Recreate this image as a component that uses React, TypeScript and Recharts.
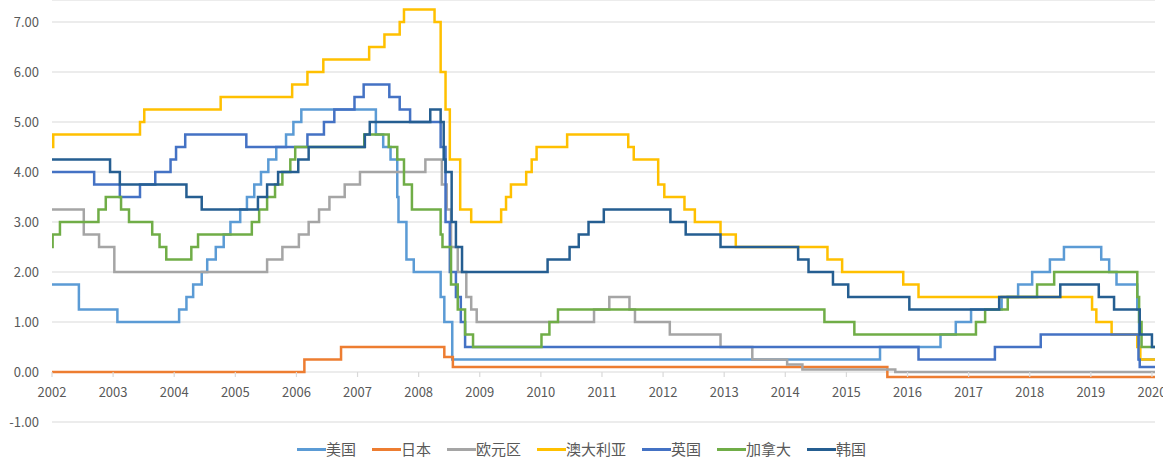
import { LineChart, Line, XAxis, YAxis, CartesianGrid, Legend } from 'recharts';

// time is in "axis years"; each pair is [start, rate]
const END = 2020.05;
const YEARS = [2002, 2003, 2004, 2005, 2006, 2007, 2008, 2009, 2010, 2011, 2012, 2013, 2014, 2015, 2016, 2017, 2018, 2019, 2020];
const Y_TICKS = [-1, 0, 1, 2, 3, 4, 5, 6, 7];
const Y_DOMAIN: [number, number] = [-1, 7.44];

const usRate: [number, number][] = [
  [2002.0, 1.75], [2002.44, 1.25], [2003.07, 1.0], [2004.08, 1.25], [2004.2, 1.5], [2004.31, 1.75],
  [2004.45, 2.0], [2004.54, 2.25], [2004.68, 2.5], [2004.81, 2.75], [2004.92, 3.0], [2005.08, 3.25],
  [2005.19, 3.5], [2005.31, 3.75], [2005.42, 4.0], [2005.54, 4.25], [2005.67, 4.5], [2005.83, 4.75],
  [2005.95, 5.0], [2006.08, 5.25], [2007.3, 4.75], [2007.42, 4.5], [2007.54, 4.25], [2007.65, 3.5],
  [2007.67, 3.0], [2007.8, 2.25], [2007.92, 2.0], [2008.36, 1.5], [2008.42, 1.0], [2008.55, 0.25],
  [2015.55, 0.5], [2016.54, 0.75], [2016.79, 1.0], [2017.04, 1.25], [2017.54, 1.5], [2017.81, 1.75],
  [2018.04, 2.0], [2018.33, 2.25], [2018.56, 2.5], [2019.17, 2.25], [2019.3, 2.0], [2019.42, 1.75],
  [2019.76, 1.25], [2019.79, 0.25],
];

const japanRate: [number, number][] = [
  [2002.0, 0], [2006.13, 0.25], [2006.73, 0.5], [2008.42, 0.3], [2008.56, 0.1], [2015.67, -0.1],
];

const euroRate: [number, number][] = [
  [2002.0, 3.25], [2002.52, 2.75], [2002.77, 2.5], [2003.02, 2.0], [2005.52, 2.25], [2005.77, 2.5],
  [2006.04, 2.75], [2006.2, 3.0], [2006.37, 3.25], [2006.54, 3.5], [2006.79, 3.75], [2007.04, 4.0],
  [2008.11, 4.25], [2008.38, 3.75], [2008.46, 3.25], [2008.53, 2.5], [2008.64, 2.0], [2008.78, 1.5],
  [2008.86, 1.25], [2008.95, 1.0], [2010.87, 1.25], [2011.12, 1.5], [2011.45, 1.25], [2011.54, 1.0],
  [2012.11, 0.75], [2012.94, 0.5], [2013.46, 0.25], [2014.03, 0.15], [2014.28, 0.05], [2015.8, 0.0],
];

const australiaRate: [number, number][] = [
  [2002.0, 4.5], [2002.02, 4.75], [2003.44, 5.0], [2003.51, 5.25], [2004.76, 5.5], [2005.93, 5.75],
  [2006.18, 6.0], [2006.44, 6.25], [2007.19, 6.5], [2007.44, 6.75], [2007.69, 7.0], [2007.76, 7.25],
  [2008.26, 7.0], [2008.36, 6.0], [2008.44, 5.25], [2008.51, 4.25], [2008.68, 3.25], [2008.86, 3.0],
  [2009.35, 3.25], [2009.43, 3.5], [2009.51, 3.75], [2009.76, 4.0], [2009.85, 4.25], [2009.93, 4.5],
  [2010.43, 4.75], [2011.43, 4.5], [2011.52, 4.25], [2011.92, 3.75], [2012.02, 3.5], [2012.35, 3.25],
  [2012.52, 3.0], [2012.94, 2.75], [2013.19, 2.5], [2014.69, 2.25], [2014.93, 2.0], [2015.93, 1.75],
  [2016.18, 1.5], [2019.02, 1.25], [2019.09, 1.0], [2019.34, 0.75], [2019.76, 0.5], [2019.81, 0.25],
];

const ukRate: [number, number][] = [
  [2002.0, 4.0], [2002.69, 3.75], [2003.11, 3.5], [2003.44, 3.75], [2003.69, 4.0], [2003.94, 4.25],
  [2004.03, 4.5], [2004.18, 4.75], [2005.18, 4.5], [2006.18, 4.75], [2006.45, 5.0], [2006.62, 5.25],
  [2006.95, 5.5], [2007.1, 5.75], [2007.52, 5.5], [2007.69, 5.25], [2007.86, 5.0], [2008.36, 4.5],
  [2008.44, 3.0], [2008.51, 2.0], [2008.61, 1.5], [2008.69, 1.0], [2008.76, 0.5], [2016.18, 0.25],
  [2017.43, 0.5], [2018.18, 0.75], [2019.78, 0.25], [2019.8, 0.1],
];

const canadaRate: [number, number][] = [
  [2002.0, 2.5], [2002.01, 2.75], [2002.13, 3.0], [2002.76, 3.25], [2002.88, 3.5], [2003.13, 3.25],
  [2003.26, 3.0], [2003.64, 2.75], [2003.76, 2.5], [2003.87, 2.25], [2004.28, 2.5], [2004.39, 2.75],
  [2005.27, 3.0], [2005.39, 3.25], [2005.52, 3.5], [2005.65, 3.75], [2005.77, 4.0], [2005.9, 4.25],
  [2005.98, 4.5], [2007.11, 4.75], [2007.51, 4.5], [2007.65, 4.25], [2007.76, 3.75], [2007.89, 3.25],
  [2008.36, 2.75], [2008.39, 2.5], [2008.53, 1.75], [2008.64, 1.25], [2008.76, 0.75], [2008.89, 0.5],
  [2010.01, 0.75], [2010.14, 1.0], [2010.28, 1.25], [2014.64, 1.0], [2015.13, 0.75], [2017.12, 1.0],
  [2017.27, 1.25], [2017.64, 1.5], [2018.12, 1.75], [2018.4, 2.0], [2019.76, 1.5], [2019.79, 1.0],
  [2019.83, 0.5],
];

const koreaRate: [number, number][] = [
  [2002.0, 4.25], [2002.95, 4.0], [2003.11, 3.75], [2004.2, 3.5], [2004.45, 3.25], [2005.37, 3.5],
  [2005.52, 3.75], [2005.7, 4.0], [2006.03, 4.25], [2006.2, 4.5], [2007.12, 4.75], [2007.2, 5.0],
  [2008.19, 5.25], [2008.36, 5.0], [2008.41, 4.25], [2008.44, 4.0], [2008.54, 3.0], [2008.61, 2.5],
  [2008.71, 2.0], [2010.11, 2.25], [2010.47, 2.5], [2010.62, 2.75], [2010.78, 3.0], [2011.03, 3.25],
  [2012.12, 3.0], [2012.37, 2.75], [2012.94, 2.5], [2014.21, 2.25], [2014.38, 2.0], [2014.78, 1.75],
  [2015.03, 1.5], [2016.03, 1.25], [2017.5, 1.5], [2018.5, 1.75], [2019.13, 1.5], [2019.38, 1.25],
  [2019.8, 0.75], [2020.0, 0.5],
];

const SERIES = [
  { name: '美国', color: '#5B9BD5', steps: usRate },
  { name: '日本', color: '#ED7D31', steps: japanRate },
  { name: '欧元区', color: '#A5A5A5', steps: euroRate },
  { name: '澳大利亚', color: '#FFC000', steps: australiaRate },
  { name: '英国', color: '#4472C4', steps: ukRate },
  { name: '加拿大', color: '#70AD47', steps: canadaRate },
  { name: '韩国', color: '#255E91', steps: koreaRate },
];
const SERIES_ORDER = SERIES.map((s) => s.name);

// hold the last rate until the end of the axis
const toPoints = (steps: [number, number][]) =>
  [...steps, [END, steps[steps.length - 1][1]] as [number, number]].map(([t, v]) => ({ t, v }));

const W = 1163;
const H = 457;
const MARGIN = { top: 0, right: 8, bottom: 5, left: 0 };
const X_AXIS_H = 30;
const PLOT_H = H - MARGIN.top - MARGIN.bottom - X_AXIS_H;
// the year labels sit under the 0.00 line, like Excel's crossing axis
const ZERO_Y = MARGIN.top + (PLOT_H * Y_DOMAIN[1]) / (Y_DOMAIN[1] - Y_DOMAIN[0]);

const FONT = '"Noto Sans CJK SC", "Noto Sans", sans-serif';
const TEXT = '#595959';

function YearTick(props: any) {
  const { x, payload } = props;
  return (
    <g>
      <line x1={x} x2={x} y1={ZERO_Y} y2={ZERO_Y + 5} stroke="#D9D9D9" strokeWidth={1.2} />
      <text x={x} y={ZERO_Y + 25} textAnchor="middle" fill={TEXT} fontSize={13} fontFamily={FONT}>
        {payload.value}
      </text>
    </g>
  );
}

function LegendRow(props: any) {
  // keep the series order, recharts sorts legend items by name otherwise
  const items = [...(props.payload || [])].sort(
    (a: any, b: any) => SERIES_ORDER.indexOf(a.value) - SERIES_ORDER.indexOf(b.value)
  );
  return (
    <div style={{ display: 'flex', justifyContent: 'center', gap: 16, fontFamily: FONT }}>
      {items.map((item: any) => (
        <span key={item.value} style={{ display: 'flex', alignItems: 'center' }}>
          <span style={{ width: 29, height: 3, background: item.color, display: 'inline-block' }} />
          <span style={{ fontSize: 15, color: TEXT, lineHeight: '20px' }}>{item.value}</span>
        </span>
      ))}
    </div>
  );
}

export default function App() {
  return (
    <div style={{ position: 'absolute', left: 0, top: 0, background: '#fff' }}>
      <LineChart width={W} height={H} margin={MARGIN} style={{ fontFamily: FONT }}>
        <CartesianGrid vertical={false} stroke="#D9D9D9" strokeWidth={1.2} />
        <XAxis
          dataKey="t"
          type="number"
          domain={[2002, END]}
          ticks={YEARS}
          interval={0}
          allowDataOverflow
          axisLine={false}
          tickLine={false}
          height={X_AXIS_H}
          tick={(p: any) => <YearTick {...p} />}
        />
        <YAxis
          type="number"
          domain={Y_DOMAIN}
          ticks={Y_TICKS}
          interval={0}
          allowDataOverflow
          width={52}
          axisLine={false}
          tickLine={false}
          tickMargin={7}
          tickFormatter={(v: number) => v.toFixed(2)}
          tick={{ fill: TEXT, fontSize: 13, fontFamily: FONT }}
        />
        <Legend
          layout="horizontal"
          verticalAlign="middle"
          align="center"
          wrapperStyle={{ top: 439, left: 0, width: W }}
          content={(p: any) => <LegendRow {...p} />}
        />
        {SERIES.map((s) => (
          <Line
            key={s.name}
            name={s.name}
            data={toPoints(s.steps)}
            dataKey="v"
            type="stepAfter"
            stroke={s.color}
            strokeWidth={2.5}
            dot={false}
            activeDot={false}
            isAnimationActive={false}
          />
        ))}
      </LineChart>
    </div>
  );
}
